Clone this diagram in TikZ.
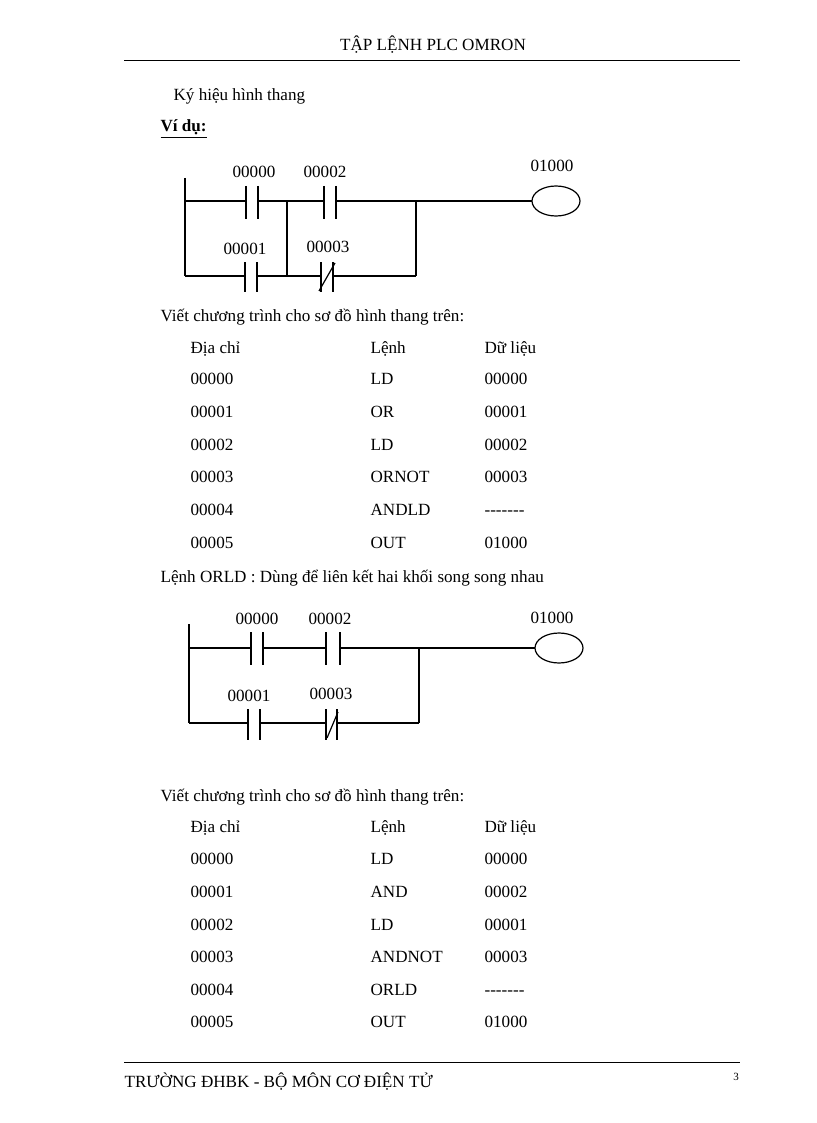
\documentclass[tikz,border=0pt]{standalone}
\usepackage{fontspec}
\setmainfont{Liberation Serif}
\usetikzlibrary{shapes.geometric}
\begin{document}
\begin{tikzpicture}[x=1pt,y=-1pt,line width=1.2pt,
 txt/.style={anchor=west,inner sep=0pt,text height=12pt,text depth=4pt,font=\fontsize{17.1}{20}\selectfont},
 lbl/.style={inner sep=0pt,font=\fontsize{17.1}{20}\selectfont},
 plate/.style={line width=1.8pt}]
\useasboundingbox (0,0) rectangle (816,1123);
\node[lbl] (hd) at (433,45) {TẬP LỆNH PLC OMRON};
\draw[line width=0.8pt] (124,60) -- (740,60);
\draw[line width=0.8pt] (124,1062) -- (740,1062);
\node[txt] (ft) at (124,1083) {TRƯỜNG ĐHBK - BỘ MÔN CƠ ĐIỆN TỬ};
\node[lbl,font=\fontsize{11}{13}\selectfont] (pg) at (736,1077) {3};
\node[txt] (t1) at (173,97) {Ký hiệu hình thang};
\node[txt,font=\fontsize{17.1}{20}\selectfont\bfseries] (t2) at (160,128) {\underline{Ví dụ:}};
\node[txt] (t3) at (160,317) {Viết chương trình cho sơ đồ hình thang trên:};
\node[txt] (t4) at (160,578) {Lệnh ORLD : Dùng để liên kết hai khối song song nhau};
\node[txt] (t5) at (160,797) {Viết chương trình cho sơ đồ hình thang trên:};
\def\dd{-{}-{}-{}-{}-{}-{}-}
% tables
\foreach \y/\a/\b/\c [count=\i] in {349/Địa chỉ/Lệnh/Dữ liệu,380/00000/LD/00000,413/00001/OR/00001,446/00002/LD/00002,478/00003/ORNOT/00003,511/00004/ANDLD/\dd,544/00005/OUT/01000}{
 \node[txt] (a\i) at (190,\y) {\a}; \node[txt] (b\i) at (370,\y) {\b}; \node[txt] (c\i) at (484,\y) {\c};}
\foreach \y/\a/\b/\c [count=\i] in {828/Địa chỉ/Lệnh/Dữ liệu,860/00000/LD/00000,893/00001/AND/00002,926/00002/LD/00001,958/00003/ANDNOT/00003,991/00004/ORLD/\dd,1023/00005/OUT/01000}{
 \node[txt] (d\i) at (190,\y) {\a}; \node[txt] (e\i) at (370,\y) {\b}; \node[txt] (f\i) at (484,\y) {\c};}
% diagram 1
\coordinate (r1t) at (185,178); \coordinate (r1b) at (185,276);
\draw (r1t) -- (r1b);
\draw (185,201) -- (246,201) (258,201) -- (324,201) (336,201) -- (532,201);
\draw[plate] (246,186) -- (246,219) (258,186) -- (258,219) (324,186) -- (324,219) (336,186) -- (336,219);
\draw (185,276) -- (245,276) (257,276) -- (321,276) (333,276) -- (416,276);
\draw[plate] (245,262) -- (245,292) (257,262) -- (257,292) (321,262) -- (321,292) (333,262) -- (333,292);
\draw (319,291) -- (335,263);
\draw (287,201) -- (287,276) (416,201) -- (416,276);
\node[draw,ellipse,minimum width=48pt,minimum height=30pt,inner sep=0pt] (c1) at (556,201) {};
\node[lbl] (l1) at (254,172) {00000};
\node[lbl] (l2) at (325,172) {00002};
\node[lbl] (l3) at (552,166) {01000};
\node[lbl] (l4) at (245,249) {00001};
\node[lbl] (l5) at (328,247) {00003};
% diagram 2
\draw (189,624) -- (189,723);
\draw (189,648) -- (251,648) (263,648) -- (326,648) (340,648) -- (535,648);
\draw[plate] (251,632) -- (251,665) (263,632) -- (263,665) (326,632) -- (326,665) (340,632) -- (340,665);
\draw (189,723) -- (248,723) (260,723) -- (326,723) (337,723) -- (419,723);
\draw[plate] (248,709) -- (248,740) (260,709) -- (260,740) (326,709) -- (326,740) (337,709) -- (337,740);
\draw (327,738) -- (338,712);
\draw (419,648) -- (419,723);
\node[draw,ellipse,minimum width=48pt,minimum height=30pt,inner sep=0pt] (c2) at (559,648) {};
\node[lbl] (m1) at (257,619) {00000};
\node[lbl] (m2) at (330,619) {00002};
\node[lbl] (m3) at (552,618) {01000};
\node[lbl] (m4) at (249,696) {00001};
\node[lbl] (m5) at (331,694) {00003};
\end{tikzpicture}
\end{document}
